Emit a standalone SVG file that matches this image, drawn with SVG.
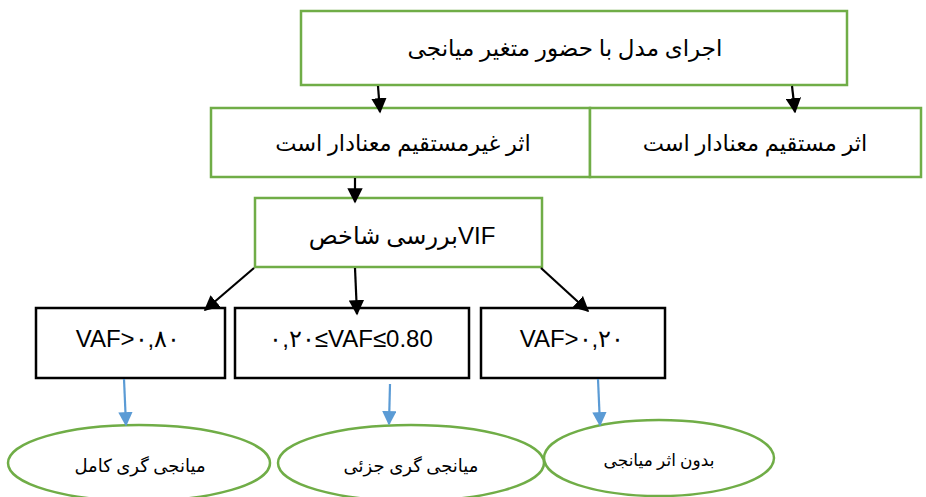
<svg xmlns="http://www.w3.org/2000/svg" width="926" height="497" viewBox="0 0 926 497">
<style>
.g{fill:#fff;stroke:#70AD47;stroke-width:2.5}
.k{fill:#fff;stroke:#000;stroke-width:2.5}
.fa{font-family:"Liberation Serif","DejaVu Sans",serif;fill:#000;text-anchor:middle}
.la{font-family:"Liberation Sans","Open Sans",sans-serif;fill:#000;text-anchor:middle}
.ck{stroke:#000;stroke-width:2.2;fill:none}
.cb{stroke:#5B9BD5;stroke-width:2.2;fill:none}
</style>
<defs>
<marker id="ak" viewBox="0 0 10 10" refX="9" refY="5" markerWidth="7" markerHeight="7" markerUnits="strokeWidth" orient="auto"><path d="M0,0L10,5L0,10z" fill="#000"/></marker>
<marker id="ab" viewBox="0 0 10 10" refX="9" refY="5" markerWidth="6.5" markerHeight="6.5" markerUnits="strokeWidth" orient="auto"><path d="M0,0L10,5L0,10z" fill="#5B9BD5"/></marker>
</defs>
<rect width="926" height="497" fill="#fff"/>
<g id="n-top"><rect class="g" x="301" y="11" width="546" height="74"/><text class="fa" x="565" y="56" font-size="23" direction="rtl">اجرای مدل با حضور متغیر میانجی</text></g>
<g id="n-indirect"><rect class="g" x="211" y="108" width="379" height="69"/><text class="fa" x="403" y="151" font-size="22.5" direction="rtl">اثر غیرمستقیم معنادار است</text></g>
<g id="n-direct"><rect class="g" x="590" y="108" width="331" height="69"/><text class="fa" x="755" y="151" font-size="22.5" direction="rtl">اثر مستقیم معنادار است</text></g>
<g id="n-vif"><rect class="g" x="255" y="198" width="287" height="69"/><text class="fa" x="402" y="244" font-size="24" direction="rtl"><tspan font-family="Liberation Sans, sans-serif">VIF</tspan>بررسی شاخص</text></g>
<g id="n-full"><rect class="k" x="36" y="308" width="189" height="70"/><text class="la" x="128" y="347" font-size="24" direction="ltr">VAF&gt;۰,۸۰</text></g>
<g id="n-partial"><rect class="k" x="235" y="308" width="234" height="70"/><text class="la" x="351" y="347" font-size="24" direction="ltr" unicode-bidi="bidi-override">۰,۲۰≤VAF≤0.80</text></g>
<g id="n-none"><rect class="k" x="481" y="308" width="184" height="70"/><text class="la" x="572" y="347" font-size="24" direction="ltr">VAF&gt;۰,۲۰</text></g>
<g id="e-full"><ellipse class="g" cx="139" cy="463" rx="131" ry="38"/><text class="fa" x="140" y="472" font-size="18" direction="rtl">میانجی گری کامل</text></g>
<g id="e-partial"><ellipse class="g" cx="411" cy="463" rx="133" ry="38"/><text class="fa" x="411" y="472" font-size="18" direction="rtl">میانجی گری جزئی</text></g>
<g id="e-none"><ellipse class="g" cx="659" cy="458" rx="115" ry="38"/><text class="fa" x="659" y="466" font-size="17" direction="rtl">بدون اثر میانجی</text></g>
<g id="connectors">
<line class="ck" x1="378" y1="86" x2="380" y2="112" marker-end="url(#ak)"/>
<line class="ck" x1="792" y1="86" x2="795" y2="112" marker-end="url(#ak)"/>
<line class="ck" x1="355" y1="178" x2="355" y2="202" marker-end="url(#ak)"/>
<line class="ck" x1="254" y1="268" x2="205" y2="310" marker-end="url(#ak)"/>
<line class="ck" x1="355" y1="268" x2="357" y2="314" marker-end="url(#ak)"/>
<line class="ck" x1="541" y1="268" x2="588" y2="311" marker-end="url(#ak)"/>
<line class="cb" x1="124" y1="379" x2="126" y2="425" marker-end="url(#ab)"/>
<line class="cb" x1="390" y1="384" x2="389" y2="424" marker-end="url(#ab)"/>
<line class="cb" x1="598" y1="379" x2="600" y2="425" marker-end="url(#ab)"/>
</g>
</svg>
